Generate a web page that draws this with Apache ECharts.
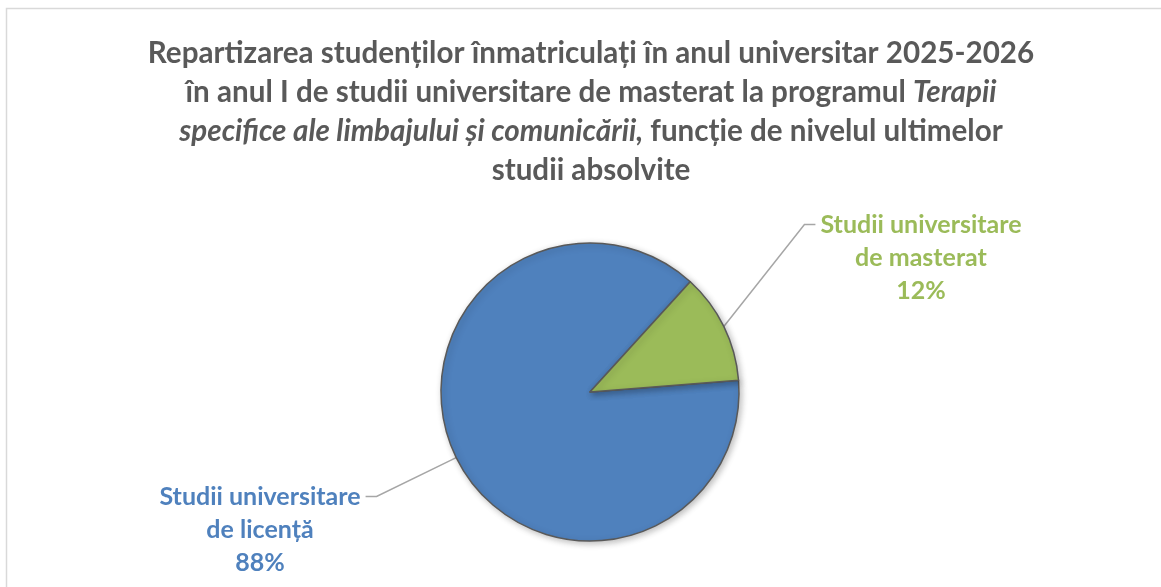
<!DOCTYPE html>
<html>
<head>
<meta charset="utf-8">
<script src="https://cdn.jsdelivr.net/npm/echarts@6/dist/echarts.min.js"></script>
<style>
  html, body { margin: 0; padding: 0; background: #fff; }
  #chart { width: 1161px; height: 587px; }
</style>
</head>
<body>
<div id="chart"></div>
<script>
var categories = ['Studii universitare\nde licență', 'Studii universitare\nde masterat'];
var shares = [88, 12];
var colors = ['#4f81bd', '#9bbb59'];

var chart = echarts.init(document.getElementById('chart'));

var titleText =
  '{b|Repartizarea studenților înmatriculați în anul universitar 2025-2026}\n' +
  '{b|în anul I de studii universitare de masterat la programul }{i|Terapii}\n' +
  '{i|specifice ale limbajului și comunicării,}{b| funcție de nivelul ultimelor}\n' +
  '{b|studii absolvite}';

var titleFont = { fontFamily: 'Lato', fontSize: 29.6, fontWeight: 'bold', color: '#595959', lineHeight: 39 };

// where each label block sits (top centre), first line carries the leader line
var labelSpots = [
  { x: 260, y: 480, side: 'right' },
  { x: 921, y: 208, side: 'left' }
];
var labelLH = 33;

var option = {
  backgroundColor: '#fff',
  title: {
    text: titleText,
    left: 586,
    textAlign: 'center',
    top: 29,
    textStyle: {
      fontFamily: 'Lato',
      fontSize: 29.6,
      fontWeight: 'bold',
      color: '#595959',
      lineHeight: 39,
      rich: {
        b: titleFont,
        i: Object.assign({}, titleFont, { fontStyle: 'italic' })
      }
    }
  },
  graphic: [{
    type: 'rect',
    silent: true,
    shape: { x: 6.5, y: 8.5, width: 1300, height: 700 },
    style: { fill: null, stroke: '#d9d9d9', lineWidth: 1.5 }
  }],
  series: [{
    type: 'pie',
    center: [590, 392],
    radius: 149,
    startAngle: 4.5,
    clockwise: true,
    percentPrecision: 0,
    animation: false,
    data: categories.map(function (c, i) {
      return {
        name: c,
        value: shares[i],
        itemStyle: { color: colors[i] },
        label: { color: colors[i] }
      };
    }),
    itemStyle: {
      borderColor: '#595959',
      borderWidth: 1.5,
      shadowBlur: 6,
      shadowColor: 'rgba(0,0,0,0.25)',
      shadowOffsetX: 2,
      shadowOffsetY: 2
    },
    label: {
      show: true,
      position: 'outside',
      formatter: '{b}\n{d}%',
      fontFamily: 'Lato',
      fontSize: 25,
      fontWeight: 'bold',
      lineHeight: labelLH,
      align: 'center'
    },
    labelLine: {
      show: true,
      lineStyle: { color: '#a6a6a6', width: 1.5 }
    },
    labelLayout: function (params) {
      var spot = labelSpots[params.dataIndex];
      var w = params.labelRect.width;
      var start = params.labelLinePoints ? params.labelLinePoints[0] : null;
      var yLine = spot.y + labelLH / 2;
      var end, elbow;
      if (spot.side === 'left') {
        end = [spot.x - w / 2 - 5, yLine];
        elbow = [end[0] - 11, yLine];
      } else {
        end = [spot.x + w / 2 + 5, yLine];
        elbow = [end[0] + 11, yLine];
      }
      var out = {
        x: spot.x,
        y: spot.y,
        align: 'center',
        verticalAlign: 'top'
      };
      if (start) out.labelLinePoints = [start, elbow, end];
      return out;
    }
  }]
};

chart.setOption(option);
</script>
</body>
</html>
